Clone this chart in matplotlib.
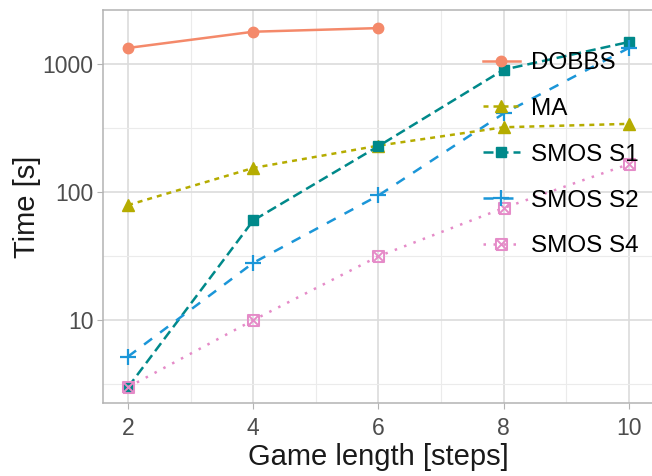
import matplotlib.pyplot as plt
import numpy as np
from matplotlib.path import Path

plt.rcParams["font.family"] = ["Liberation Sans", "DejaVu Sans"]

# data
steps = [2, 4, 6, 8, 10]
dobbs_steps = [2, 4, 6]
dobbs = [1330, 1780, 1900]
ma = [79, 154, 230, 320, 340]
smos_s1 = [3, 60, 228, 900, 1480]
smos_s2 = [5.2, 28, 94, 410, 1330]
smos_s4 = [3, 10, 31.5, 75, 165]

# square with a cross (ggplot shape 7)
sq_x = Path([(-1, -1), (1, -1), (1, 1), (-1, 1), (-1, -1), (-1, -1), (1, 1), (-1, 1), (1, -1)],
            [Path.MOVETO, Path.LINETO, Path.LINETO, Path.LINETO, Path.LINETO,
             Path.MOVETO, Path.LINETO, Path.MOVETO, Path.LINETO])

fig = plt.figure(figsize=(6.52, 4.76), dpi=100)
ax = fig.add_axes([0.158, 0.153, 0.845, 0.826])

lw = 1.8
ax.plot(dobbs_steps, dobbs, color='#F4896A', lw=lw, marker='o', ms=7.5, label='DOBBS')
ax.plot(steps, ma, color='#B5AC00', lw=lw, dashes=(2, 2), marker='^', ms=8.5, label='MA')
ax.plot(steps, smos_s1, color='#00898A', lw=lw, dashes=(4, 2), marker='s', ms=7.5, label='SMOS S1')
ax.plot(steps, smos_s2, color='#1B96D8', lw=lw, dashes=(4, 4), marker='+', ms=12, mew=1.6, label='SMOS S2')
ax.plot(steps, smos_s4, color='#E58BC8', lw=lw, dashes=(1, 3), marker=sq_x, ms=8, mfc='none',
        mew=1.4, label='SMOS S4')

ax.set_yscale('log')
ax.set_xlim(1.6, 10.4)
ax.set_ylim(2.25, 2630)
ax.set_xticks([2, 4, 6, 8, 10])
ax.set_xticks([3, 5, 7, 9], minor=True)
ax.set_yticks([10, 100, 1000])
ax.set_yticklabels(['10', '100', '1000'])
ax.set_yticks([10**0.5, 10**1.5, 10**2.5], minor=True)
ax.yaxis.set_minor_formatter(plt.NullFormatter())

ax.grid(True, which='major', color='#DCDCDC', lw=1.2)
ax.grid(True, which='minor', color='#EBEBEB', lw=0.8)
ax.set_axisbelow(True)
for s in ax.spines.values():
    s.set_color('#B3B3B3')
    s.set_linewidth(1.1)
ax.tick_params(which='major', length=4, color='#B3B3B3', labelcolor='#4D4D4D', labelsize=16.5, pad=3)
ax.tick_params(axis='x', pad=6)
ax.tick_params(which='minor', length=0)

ax.set_xlabel('Game length [steps]', fontsize=21, color='#1A1A1A', labelpad=2)
ax.set_ylabel('Time [s]', fontsize=21, color='#1A1A1A', labelpad=1)

leg = ax.legend(loc='upper left', bbox_to_anchor=(0.69, 0.893), frameon=False, fontsize=17.5,
                handlelength=1.5, labelspacing=0.98, handletextpad=0.45, borderpad=0, borderaxespad=0)

fig.savefig('out.png', dpi=100)
